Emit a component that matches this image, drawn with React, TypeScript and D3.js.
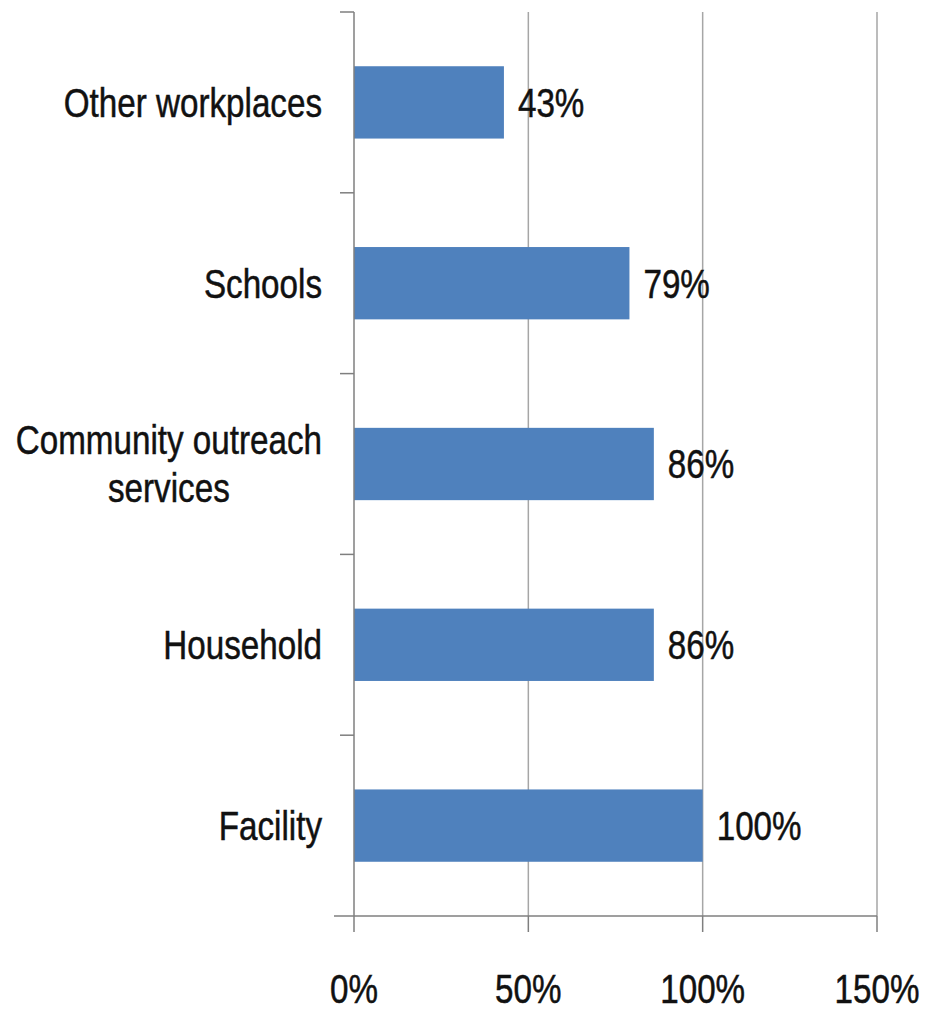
import React, { useEffect, useRef } from "react";
import * as d3 from "d3";

const categories = ["Other workplaces", "Schools", "Community outreach\nservices", "Household", "Facility"];
const values = [43, 79, 86, 86, 100];
const xTicks = [0, 50, 100, 150];

const W = 930;
const H = 1013;
const FONT = "'Liberation Sans', Arial, sans-serif";
const SX = 0.83; // horizontal condensing to mimic a narrow font

export default function App() {
  const ref = useRef<SVGSVGElement | null>(null);

  useEffect(() => {
    const svg = d3.select(ref.current);
    svg.selectAll("*").remove();

    const left = 354;
    const right = 877;
    const top = 12;
    const bottom = 916;

    const x = d3.scaleLinear().domain([0, 150]).range([left, right]);
    const y = d3.scaleBand<string>().domain(categories).range([top, bottom]).paddingInner(0.6).paddingOuter(0.3);
    const band = d3.scaleBand<string>().domain(categories).range([top, bottom]);

    svg.append("rect").attr("width", W).attr("height", H).attr("fill", "#ffffff");

    const addText = (
      parent: d3.Selection<any, any, any, any>,
      tx: number,
      ty: number,
      str: string,
      anchor: string,
      dy = "0"
    ) => {
      const g = parent.append("g").attr("transform", `translate(${tx},${ty}) scale(${SX},1)`);
      return g
        .append("text")
        .attr("x", 0)
        .attr("y", 0)
        .attr("dy", dy)
        .attr("text-anchor", anchor)
        .attr("font-family", FONT)
        .attr("font-size", 40)
        .attr("fill", "#111")
        .attr("stroke", "#111")
        .attr("stroke-width", 0.5)
        .text(str);
    };

    // gridlines
    svg
      .append("g")
      .selectAll("line")
      .data(xTicks.filter((t) => t > 0))
      .join("line")
      .attr("x1", (d) => x(d))
      .attr("x2", (d) => x(d))
      .attr("y1", top)
      .attr("y2", bottom)
      .attr("stroke", "#a6a6a6")
      .attr("stroke-width", 1.5);

    // bars
    svg
      .append("g")
      .selectAll("rect")
      .data(categories)
      .join("rect")
      .attr("x", x(0))
      .attr("y", (d) => y(d)!)
      .attr("width", (d, i) => x(values[i]) - x(0))
      .attr("height", y.bandwidth())
      .attr("fill", "#4f81bd");

    // axes
    const axisColor = "#7f7f7f";
    svg.append("line").attr("x1", left).attr("x2", left).attr("y1", top).attr("y2", bottom).attr("stroke", axisColor).attr("stroke-width", 1.5);
    svg.append("line").attr("x1", left).attr("x2", right).attr("y1", bottom).attr("y2", bottom).attr("stroke", axisColor).attr("stroke-width", 1.5);

    // category ticks (band boundaries)
    const bounds = categories.map((c) => band(c)!).concat([bottom]);
    svg
      .append("g")
      .selectAll("line")
      .data(bounds)
      .join("line")
      .attr("x1", (d) => (d === bottom ? left - 20 : left - 14))
      .attr("x2", left)
      .attr("y1", (d) => d)
      .attr("y2", (d) => d)
      .attr("stroke", axisColor)
      .attr("stroke-width", 1.5);

    // value ticks
    svg
      .append("g")
      .selectAll("line")
      .data(xTicks)
      .join("line")
      .attr("x1", (d) => x(d))
      .attr("x2", (d) => x(d))
      .attr("y1", bottom)
      .attr("y2", bottom + 16)
      .attr("stroke", axisColor)
      .attr("stroke-width", 1.5);

    // x tick labels
    const xg = svg.append("g");
    xTicks.forEach((t) => addText(xg, x(t), 1003, `${t}%`, "middle"));

    // value labels
    const vg = svg.append("g");
    categories.forEach((c, i) => addText(vg, x(values[i]) + 14, y(c)! + y.bandwidth() / 2, `${values[i]}%`, "start", "0.36em"));

    // category labels
    const labelRight = 322;
    const lineGap = 48;
    const cg = svg.append("g");
    categories.forEach((c) => {
      const lines = c.split("\n");
      const cy = band(c)! + band.bandwidth() / 2;
      const texts = lines.map((ln, j) =>
        addText(cg, 0, cy + (j - (lines.length - 1) / 2) * lineGap, ln, "middle", "0.36em")
      );
      const widths = texts.map((t) => (t.node() as SVGTextElement).getComputedTextLength() * SX);
      const maxW = d3.max(widths) || 0;
      texts.forEach((t, j) => {
        const ly = cy + (j - (lines.length - 1) / 2) * lineGap;
        d3.select((t.node() as SVGTextElement).parentNode as SVGGElement).attr(
          "transform",
          `translate(${labelRight - maxW / 2},${ly}) scale(${SX},1)`
        );
      });
    });
  }, []);

  return (
    <svg
      ref={ref}
      width={W}
      height={H}
      style={{ position: "absolute", left: 0, top: 0, display: "block" }}
    />
  );
}
